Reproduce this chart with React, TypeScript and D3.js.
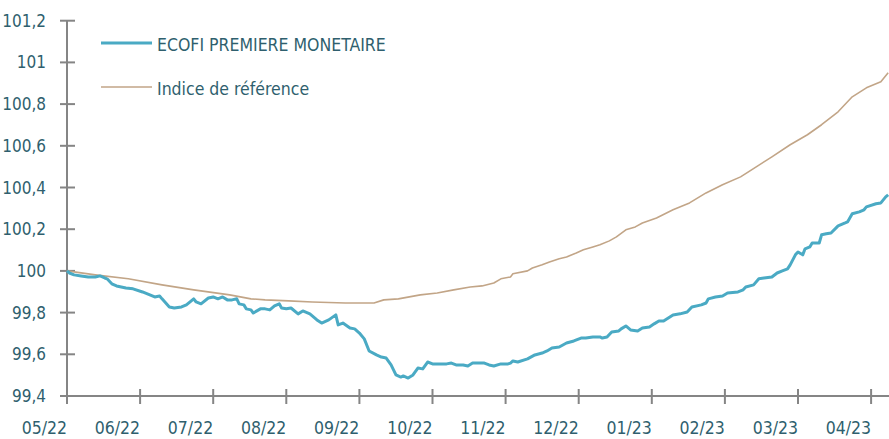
import React, { useEffect, useRef } from 'react';
import * as d3 from 'd3';

// month tick labels (start of each month)
const monthLabels = ['05/22', '06/22', '07/22', '08/22', '09/22', '10/22', '11/22', '12/22', '01/23', '02/23', '03/23', '04/23'];
const yTicks = [99.4, 99.6, 99.8, 100, 100.2, 100.4, 100.6, 100.8, 101, 101.2];

const fundDates = [
  '2022-05-01', '2022-05-02', '2022-05-04', '2022-05-07', '2022-05-10', '2022-05-13', '2022-05-15', '2022-05-17', '2022-05-18', '2022-05-20',
  '2022-05-22', '2022-05-26', '2022-05-29', '2022-06-02', '2022-06-05', '2022-06-07', '2022-06-09', '2022-06-10', '2022-06-13', '2022-06-15',
  '2022-06-18', '2022-06-20', '2022-06-23', '2022-06-24', '2022-06-26', '2022-06-29', '2022-07-01', '2022-07-03', '2022-07-05', '2022-07-07',
  '2022-07-09', '2022-07-11', '2022-07-12', '2022-07-14', '2022-07-15', '2022-07-17', '2022-07-18', '2022-07-21', '2022-07-23', '2022-07-25',
  '2022-07-27', '2022-07-29', '2022-07-30', '2022-08-01', '2022-08-03', '2022-08-06', '2022-08-08', '2022-08-11', '2022-08-14', '2022-08-16',
  '2022-08-19', '2022-08-22', '2022-08-23', '2022-08-25', '2022-08-28', '2022-08-30', '2022-09-01', '2022-09-03', '2022-09-05', '2022-09-08',
  '2022-09-10', '2022-09-12', '2022-09-14', '2022-09-16', '2022-09-18', '2022-09-19', '2022-09-21', '2022-09-23', '2022-09-25', '2022-09-27',
  '2022-09-29', '2022-10-01', '2022-10-04', '2022-10-07', '2022-10-09', '2022-10-11', '2022-10-14', '2022-10-16', '2022-10-18', '2022-10-21',
  '2022-10-23', '2022-10-25', '2022-10-27', '2022-10-30', '2022-11-02', '2022-11-03', '2022-11-04', '2022-11-06', '2022-11-10', '2022-11-13',
  '2022-11-16', '2022-11-18', '2022-11-20', '2022-11-23', '2022-11-26', '2022-11-29', '2022-12-02', '2022-12-04', '2022-12-07', '2022-12-10',
  '2022-12-11', '2022-12-13', '2022-12-15', '2022-12-18', '2022-12-19', '2022-12-21', '2022-12-23', '2022-12-26', '2022-12-28', '2022-12-31',
  '2023-01-02', '2023-01-04', '2023-01-06', '2023-01-10', '2023-01-13', '2023-01-16', '2023-01-18', '2023-01-22', '2023-01-24', '2023-01-25',
  '2023-01-28', '2023-01-31', '2023-02-02', '2023-02-06', '2023-02-08', '2023-02-09', '2023-02-12', '2023-02-14', '2023-02-16', '2023-02-19',
  '2023-02-21', '2023-02-23', '2023-02-25', '2023-02-26', '2023-02-28', '2023-03-01', '2023-03-03', '2023-03-04', '2023-03-06', '2023-03-07',
  '2023-03-10', '2023-03-11', '2023-03-13', '2023-03-15', '2023-03-18', '2023-03-21', '2023-03-22', '2023-03-24', '2023-03-27', '2023-03-29',
  '2023-03-30', '2023-04-03', '2023-04-05', '2023-04-07', '2023-04-08',
];
const fundValues = [
  100.0, 99.99, 99.981, 99.976, 99.971, 99.971, 99.976, 99.966, 99.962, 99.938,
  99.928, 99.918, 99.914, 99.899, 99.885, 99.875, 99.88, 99.866, 99.827, 99.822,
  99.827, 99.837, 99.866, 99.851, 99.842, 99.87, 99.875, 99.866, 99.875, 99.861,
  99.861, 99.866, 99.842, 99.837, 99.818, 99.813, 99.798, 99.818, 99.818, 99.813,
  99.832, 99.842, 99.822, 99.818, 99.822, 99.794, 99.808, 99.794, 99.765, 99.75,
  99.765, 99.789, 99.741, 99.75, 99.726, 99.722, 99.702, 99.674, 99.616, 99.597,
  99.587, 99.582, 99.549, 99.501, 99.491, 99.496, 99.486, 99.501, 99.534, 99.53,
  99.563, 99.554, 99.554, 99.554, 99.558, 99.549, 99.549, 99.544, 99.558, 99.558,
  99.558, 99.549, 99.544, 99.554, 99.554, 99.558, 99.568, 99.563, 99.578, 99.597,
  99.606, 99.616, 99.63, 99.635, 99.654, 99.664, 99.678, 99.678, 99.683, 99.683,
  99.678, 99.683, 99.707, 99.712, 99.722, 99.736, 99.717, 99.712, 99.726, 99.731,
  99.746, 99.76, 99.76, 99.789, 99.794, 99.803, 99.827, 99.837, 99.846, 99.866,
  99.875, 99.88, 99.894, 99.899, 99.909, 99.923, 99.933, 99.962, 99.966, 99.971,
  99.99, 100.0, 100.01, 100.029, 100.077, 100.091, 100.077, 100.106, 100.115, 100.134,
  100.134, 100.173, 100.178, 100.182, 100.216, 100.23, 100.235, 100.274, 100.283, 100.293,
  100.307, 100.322, 100.326, 100.355, 100.365,
];

const benchDates = [
  '2022-05-01', '2022-05-13', '2022-05-27', '2022-06-10', '2022-06-23', '2022-07-08', '2022-07-17', '2022-07-23', '2022-08-02', '2022-08-12',
  '2022-08-26', '2022-09-07', '2022-09-11', '2022-09-17', '2022-09-26', '2022-10-03', '2022-10-10', '2022-10-17', '2022-10-22', '2022-10-27',
  '2022-10-30', '2022-11-03', '2022-11-04', '2022-11-10', '2022-11-12', '2022-11-16', '2022-11-19', '2022-11-23', '2022-11-26', '2022-11-30',
  '2022-12-03', '2022-12-07', '2022-12-10', '2022-12-14', '2022-12-17', '2022-12-21', '2022-12-25', '2022-12-28', '2023-01-03', '2023-01-10',
  '2023-01-17', '2023-01-24', '2023-01-31', '2023-02-07', '2023-02-13', '2023-02-19', '2023-02-26', '2023-03-05', '2023-03-11', '2023-03-18',
  '2023-03-24', '2023-03-30', '2023-04-05', '2023-04-08',
];
const benchValues = [
  100.0, 99.981, 99.962, 99.933, 99.909, 99.885, 99.866, 99.861, 99.856, 99.851,
  99.846, 99.846, 99.861, 99.866, 99.885, 99.894, 99.909, 99.923, 99.928, 99.942,
  99.962, 99.971, 99.986, 100.0, 100.014, 100.029, 100.043, 100.058, 100.067, 100.086,
  100.101, 100.115, 100.125, 100.144, 100.163, 100.197, 100.211, 100.23, 100.254, 100.293,
  100.326, 100.374, 100.413, 100.451, 100.499, 100.547, 100.605, 100.653, 100.701, 100.763,
  100.835, 100.878, 100.907, 100.95,
];

const FONT = "'Liberation Sans Narrow', 'Arial Narrow', 'DejaVu Sans Condensed', sans-serif";
const TEXT = '#2f5f6e';
const AXIS = '#858585';

// months since May 2022, with the day as fraction (Excel month-based axis)
const monthPos = (s: string) => {
  const d = d3.timeParse('%Y-%m-%d')(s) as Date;
  const dim = new Date(d.getFullYear(), d.getMonth() + 1, 0).getDate();
  return (d.getFullYear() - 2022) * 12 + d.getMonth() - 4 + (d.getDate() - 1) / dim;
};

const App = () => {
  const ref = useRef<SVGSVGElement>(null);

  useEffect(() => {
    const svg = d3.select(ref.current);
    svg.selectAll('*').remove();

    const width = 889;
    const x = d3.scaleLinear().domain([0, 1]).range([67, 140.1]);
    const y = d3.scaleLinear().domain([99.4, 101.2]).range([396, 20.7]);

    // axes
    svg.append('line').attr('x1', 67).attr('x2', width).attr('y1', 396).attr('y2', 396)
      .attr('stroke', AXIS).attr('stroke-width', 2);
    svg.append('line').attr('x1', 67).attr('x2', 67).attr('y1', y(101.2)).attr('y2', 396)
      .attr('stroke', AXIS).attr('stroke-width', 2);

    svg.selectAll('.ytick').data(yTicks).enter().append('line')
      .attr('x1', 60).attr('x2', 75)
      .attr('y1', (d) => y(d)).attr('y2', (d) => y(d))
      .attr('stroke', AXIS).attr('stroke-width', 2);
    svg.selectAll('.ylab').data(yTicks).enter().append('text')
      .attr('x', 46).attr('y', (d) => y(d) + 6)
      .attr('text-anchor', 'end')
      .style('font-family', FONT).style('font-size', '17px').style('fill', TEXT)
      .text((d) => d3.format('.1f')(d).replace('.0', '').replace('.', ','));

    svg.selectAll('.xtick').data(monthLabels).enter().append('line')
      .attr('x1', (d, i) => x(i)).attr('x2', (d, i) => x(i))
      .attr('y1', 389).attr('y2', 404)
      .attr('stroke', AXIS).attr('stroke-width', 2);
    svg.selectAll('.xlab').data(monthLabels).enter().append('text')
      .attr('x', (d, i) => x(i)).attr('y', 434)
      .attr('text-anchor', 'end')
      .style('font-family', FONT).style('font-size', '17.5px').style('fill', TEXT)
      .text((d) => d);

    const line = d3.line<[number, number]>().x((d) => x(d[0])).y((d) => y(d[1]));

    const bench: [number, number][] = benchDates.map((d, i) => [monthPos(d), benchValues[i]]);
    const fund: [number, number][] = fundDates.map((d, i) => [monthPos(d), fundValues[i]]);

    svg.append('path').attr('d', line(bench)).attr('fill', 'none')
      .attr('stroke', '#c2a587').attr('stroke-width', 1.6).attr('stroke-linejoin', 'round');
    svg.append('path').attr('d', line(fund)).attr('fill', 'none')
      .attr('stroke', '#4aaac4').attr('stroke-width', 3).attr('stroke-linejoin', 'round');

    // legend
    const legend = [
      { label: 'ECOFI PREMIERE MONETAIRE', color: '#4aaac4', w: 3, ly: 43 },
      { label: 'Indice de référence', color: '#c2a587', w: 1.6, ly: 87 },
    ];
    legend.forEach((l) => {
      svg.append('line').attr('x1', 101).attr('x2', 152).attr('y1', l.ly).attr('y2', l.ly)
        .attr('stroke', l.color).attr('stroke-width', l.w);
      svg.append('text').attr('x', 157).attr('y', l.ly + 8)
        .style('font-family', FONT).style('font-size', '17.5px').style('fill', TEXT)
        .text(l.label);
    });
  }, []);

  return (
    <svg ref={ref} width={889} height={439}
      style={{ position: 'absolute', left: 0, top: 0, background: '#fff' }} />
  );
};

export default App;
